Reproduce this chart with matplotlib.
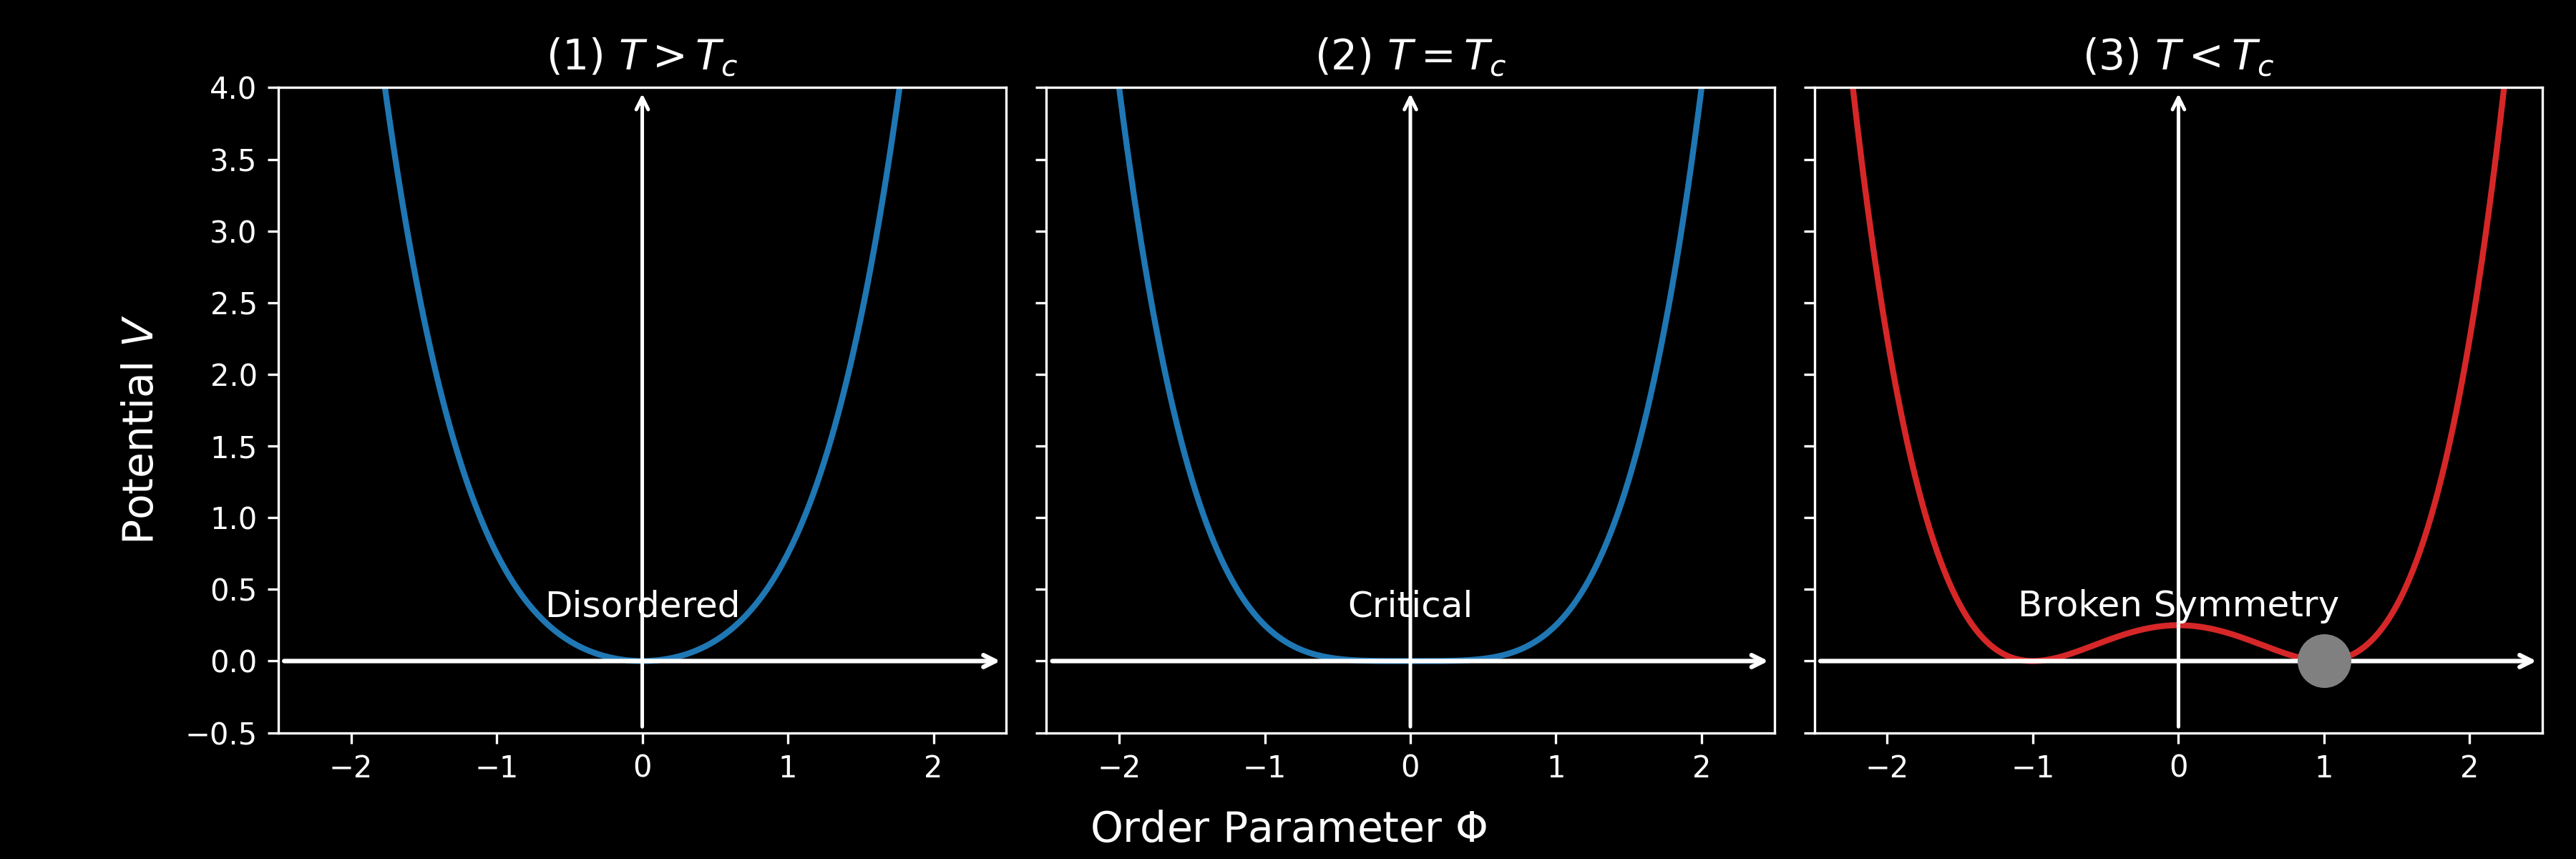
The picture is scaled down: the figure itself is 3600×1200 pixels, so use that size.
import numpy as np
import matplotlib.pyplot as plt

# panel titles and labels
titles = [r'(1) $T > T_c$', r'(2) $T = T_c$', r'(3) $T < T_c$']
labels = ['Disordered', 'Critical', 'Broken Symmetry']
colors = ['#1f77b4', '#1f77b4', '#d62728']

# potential V = c0 + c2*phi^2 + c4*phi^4, coefficients
# (panel 1 hits V=4 near phi=1.75, panel 2 near phi=2, panel 3 has a 0.25 barrier)
c0 = [0.0, 0.0, 0.25]
c2 = [0.5, 0.0, -0.5]
c4 = [0.25, 0.25, 0.25]

# ground state marker in panel 3
ground_phi = 1.0
ground_v = 0.0

phi = np.linspace(-2.5, 2.5, 600)

plt.style.use('dark_background')
fig, axes = plt.subplots(1, 3, figsize=(12, 4), dpi=300, sharey=True)
fig.subplots_adjust(left=0.108, right=0.987, top=0.898, bottom=0.147, wspace=0.055)

for i, ax in enumerate(axes):
    v = np.polyval([c4[i], 0, c2[i], 0, c0[i]], phi)
    ax.plot(phi, v, color=colors[i], lw=2)

    # axes arrows
    ax.annotate('', xy=(2.5, 0), xytext=(-2.5, 0),
                arrowprops=dict(arrowstyle='->', color='white', lw=1.5))
    ax.annotate('', xy=(0, 4.0), xytext=(0, -0.5),
                arrowprops=dict(arrowstyle='->', color='white', lw=1.2))

    ax.text(0, 0.26, labels[i], color='white', fontsize=12,
            ha='center', va='bottom')
    ax.set_title(titles[i], fontsize=14)
    ax.set_xlim(-2.5, 2.5)
    ax.set_ylim(-0.5, 4)
    ax.set_xticks([-2, -1, 0, 1, 2])

axes[2].plot(ground_phi, ground_v, 'o', color='gray', markersize=17, zorder=5)

fig.supxlabel(r'Order Parameter $\Phi$', fontsize=14)
fig.supylabel(r'Potential $V$', fontsize=14, x=0.047)

plt.savefig('out.png', dpi=300)
